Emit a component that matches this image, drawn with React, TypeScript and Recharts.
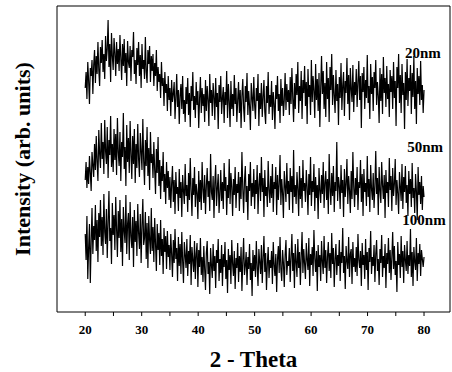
import React from "react";
import { LineChart, Line, XAxis, YAxis, ReferenceDot, ReferenceLine } from "recharts";

const thetaStart = 20;
const thetaStep = 0.15;

const s20nm = [
  224, 240, 213, 250, 231, 208, 244, 236, 252, 218, 247, 262, 229, 256, 238, 270, 242, 226, 265, 249,
  272, 240, 258, 233, 276, 251, 263, 292, 245, 268, 230, 279, 256, 242, 274, 259, 236, 270, 248, 263,
  241, 277, 254, 232, 268, 246, 273, 239, 259, 226, 271, 250, 244, 266, 231, 262, 255, 280, 238, 252,
  228, 264, 247, 270, 236, 257, 224, 268, 243, 252, 233, 275, 240, 229, 262, 248, 266, 230, 256, 241,
  258, 226, 249, 236, 262, 221, 245, 230, 238, 214, 250, 226, 234, 206, 240, 219, 228, 201, 236, 212,
  224, 196, 232, 210, 218, 230, 193, 214, 238, 205, 222, 188, 216, 228, 203, 236, 198, 212, 190, 225,
  208, 234, 197, 219, 185, 226, 211, 240, 202, 216, 194, 230, 207, 221, 184, 213, 235, 199, 224, 206,
  218, 190, 232, 201, 226, 212, 186, 238, 209, 222, 196, 229, 215, 192, 234, 205, 219, 183, 227, 210,
  236, 198, 214, 225, 189, 220, 207, 241, 194, 228, 211, 185, 231, 203, 218, 196, 237, 208, 224, 190,
  212, 230, 199, 222, 184, 216, 233, 204, 190, 226, 210, 239, 197, 221, 206, 182, 229, 214, 201, 235,
  207, 193, 224, 211, 238, 186, 219, 203, 229, 195, 215, 232, 200, 188, 226, 209, 240, 198, 217, 205,
  231, 192, 220, 208, 183, 227, 213, 236, 201, 218, 189, 233, 206, 224, 196, 212, 239, 202, 228, 210,
  222, 197, 235, 208, 244, 214, 190, 229, 203, 238, 217, 250, 199, 226, 211, 241, 193, 232, 219, 246,
  206, 230, 188, 243, 215, 227, 197, 252, 210, 236, 221, 194, 248, 212, 233, 201, 239, 185, 224, 256,
  218, 241, 203, 229, 195, 250, 213, 234, 190, 245, 222, 258, 207, 237, 216, 199, 242, 211, 228, 187,
  235, 214, 249, 202, 226, 240, 196, 231, 219, 254, 208, 237, 192, 244, 223, 210, 247, 200, 230, 217,
  243, 205, 229, 251, 212, 236, 184, 239, 220, 245, 203, 232, 214, 257, 209, 226, 193, 248, 218, 235,
  201, 240, 224, 252, 207, 230, 216, 189, 244, 211, 238, 198, 255, 219, 234, 205, 246, 213, 228, 195,
  242, 220, 236, 203, 250, 214, 231, 186, 245, 224, 258, 209, 237, 199, 248, 217, 229, 183, 240, 212,
  253, 206, 234, 221, 247, 198, 239, 215, 256, 203, 231, 188, 244, 218, 236, 207, 251, 212, 227, 199,
  222,
];

const s50nm = [
  132, 150, 124, 145, 128, 156, 139, 121, 160, 147, 135, 168, 142, 176, 150, 131, 182, 158, 144, 189,
  153, 170, 138, 192, 161, 148, 185, 134, 172, 157, 196, 145, 168, 140, 183, 152, 178, 137, 194, 160,
  146, 180, 131, 170, 155, 199, 143, 165, 126, 187, 150, 174, 139, 191, 158, 133, 176, 148, 183, 129,
  168, 144, 188, 153, 135, 179, 160, 142, 193, 151, 127, 172, 146, 185, 136, 164, 122, 180, 149, 158,
  134, 170, 142, 118, 163, 139, 175, 126, 152, 113, 146, 131, 160, 120, 138, 108, 150, 124, 141, 112,
  135, 104, 128, 146, 110, 132, 98, 140, 118, 125, 101, 143, 114, 130, 95, 137, 121, 108, 148, 116,
  127, 100, 139, 112, 154, 122, 96, 134, 117, 145, 105, 128, 119, 93, 141, 110, 132, 102, 150, 123,
  109, 137, 98, 126, 144, 115, 131, 101, 158, 120, 112, 136, 94, 129, 147, 106, 124, 138, 99, 118,
  142, 111, 130, 103, 149, 121, 135, 97, 127, 114, 153, 108, 139, 125, 96, 133, 117, 145, 104, 128,
  119, 140, 101, 135, 113, 160, 124, 99, 131, 146, 110, 126, 92, 138, 121, 150, 106, 129, 115, 143,
  103, 132, 118, 147, 98, 127, 139, 111, 155, 120, 134, 95, 142, 116, 125, 105, 151, 122, 109, 136,
  114, 148, 100, 130, 123, 145, 97, 137, 112, 128, 157, 107, 133, 119, 94, 141, 126, 110, 149, 118,
  131, 102, 144, 120, 136, 99, 162, 115, 127, 108, 140, 123, 96, 146, 113, 134, 104, 152, 121, 129,
  110, 142, 125, 97, 138, 117, 155, 106, 131, 120, 148, 101, 135, 114, 127, 93, 144, 122, 109, 137,
  118, 150, 104, 129, 141, 112, 133, 98, 158, 124, 107, 139, 116, 146, 100, 130, 121, 170, 111, 135,
  126, 103, 147, 119, 132, 95, 143, 115, 128, 153, 108, 136, 122, 99, 141, 113, 160, 125, 105, 134,
  117, 145, 102, 130, 124, 152, 110, 138, 96, 143, 120, 129, 106, 156, 115, 133, 100, 147, 123, 112,
  139, 104, 126, 161, 118, 134, 97, 145, 121, 109, 150, 127, 113, 137, 94, 142, 119, 130, 105, 154,
  122, 136, 101, 144, 116, 128, 153, 107, 132, 119, 98, 140, 125, 111, 148, 103, 135, 120, 146, 109,
  127, 96, 141, 118, 133, 105, 149, 114, 124, 99, 138, 121, 92, 145, 117, 130, 108, 136, 102, 126,
  115,
];

const s100nm = [
  78, 52, 96, 33, 64, 88, 29, 70, 104, 58, 86, 72, 107, 61, 92, 50, 99, 75, 112, 66,
  95, 57, 118, 80, 68, 103, 54, 90, 121, 71, 84, 48, 109, 77, 97, 62, 115, 83, 55, 101,
  74, 112, 60, 93, 46, 105, 81, 69, 117, 58, 88, 99, 52, 110, 76, 64, 95, 45, 102, 70,
  91, 56, 108, 79, 63, 98, 49, 86, 113, 67, 74, 100, 53, 89, 44, 96, 72, 58, 104, 61,
  85, 50, 94, 68, 41, 88, 62, 79, 47, 92, 56, 73, 38, 84, 60, 76, 43, 81, 55, 67,
  42, 78, 58, 35, 72, 49, 83, 53, 64, 31, 75, 46, 68, 38, 80, 51, 29, 70, 57, 44,
  73, 36, 61, 48, 77, 27, 65, 52, 40, 71, 33, 58, 69, 25, 62, 45, 74, 37, 55, 30,
  66, 43, 22, 59, 71, 38, 50, 18, 64, 47, 34, 68, 41, 56, 24, 62, 49, 73, 31, 53,
  39, 67, 26, 58, 45, 70, 33, 52, 19, 63, 42, 57, 28, 72, 48, 36, 61, 23, 54, 44,
  69, 30, 56, 40, 65, 21, 51, 74, 37, 46, 60, 27, 55, 43, 68, 32, 49, 16, 62, 41,
  57, 35, 71, 45, 26, 63, 50, 38, 67, 29, 54, 76, 40, 59, 22, 48, 65, 34, 52, 44,
  61, 28, 70, 47, 36, 58, 20, 53, 66, 39, 75, 43, 31, 62, 49, 25, 57, 72, 37, 51,
  46, 64, 30, 55, 78, 41, 59, 24, 68, 50, 35, 73, 44, 60, 27, 56, 80, 39, 63, 48,
  33, 69, 52, 42, 74, 26, 58, 47, 65, 36, 82, 54, 40, 61, 21, 67, 45, 57, 31, 71,
  50, 38, 76, 44, 62, 29, 55, 70, 41, 59, 34, 79, 48, 64, 25, 53, 68, 37, 57, 46,
  72, 31, 60, 49, 84, 39, 56, 23, 66, 51, 43, 75, 35, 58, 63, 28, 70, 45, 54, 40,
  65, 36, 78, 52, 44, 61, 26, 69, 47, 57, 33, 73, 42, 60, 22, 64, 50, 81, 38, 55,
  46, 67, 30, 58, 72, 41, 53, 27, 63, 49, 77, 35, 56, 44, 68, 24, 59, 48, 74, 39,
  62, 32, 55, 80, 43, 66, 37, 51, 20, 70, 47, 58, 34, 76, 45, 61, 29, 67, 52, 41,
  71, 38, 57, 46, 83, 35, 60, 26, 65, 50, 42, 74, 31, 59, 48, 68, 36, 62, 53, 45,
  55,
];

const xTicks = [20, 25, 30, 35, 40, 45, 50, 55, 60, 65, 70, 75, 80];
const seriesLabels = [
  { name: "20nm", x: 79.8, y: 259 },
  { name: "50nm", x: 80.2, y: 165 },
  { name: "100nm", x: 80.0, y: 92 },
];

const n = Math.min(s20nm.length, s50nm.length, s100nm.length);
const data = s20nm.slice(0, n).map((v, i) => ({
  theta: Math.round((thetaStart + i * thetaStep) * 100) / 100,
  a: v,
  b: s50nm[i],
  c: s100nm[i],
}));

const FONT = "'Liberation Serif', 'Times New Roman', serif";
const X_DOMAIN: [number, number] = [15, 84.6];
const Y_DOMAIN: [number, number] = [0, 306];

export default function App() {
  return (
    <div style={{ position: "absolute", left: 0, top: 0, background: "#fff" }}>
      <LineChart
        width={452}
        height={372}
        data={data}
        margin={{ top: 6, right: 1, bottom: 40, left: 0 }}
      >
        <XAxis
          dataKey="theta"
          type="number"
          domain={X_DOMAIN}
          ticks={xTicks}
          tickFormatter={(v: number) => (v % 10 === 0 ? String(v) : "")}
          tickSize={4}
          tickMargin={9}
          height={20}
          stroke="#000"
          tick={{ fill: "#000", fontFamily: FONT, fontWeight: "bold", fontSize: 13 }}
          label={{
            value: "2 - Theta",
            position: "insideBottom",
            offset: -35,
            style: { fill: "#000", fontFamily: FONT, fontWeight: "bold", fontSize: 23 },
          }}
        />
        <YAxis
          type="number"
          domain={Y_DOMAIN}
          tick={false}
          tickLine={false}
          width={57}
          stroke="#000"
          label={{
            value: "Intensity (arb. units)",
            angle: -90,
            position: "insideLeft",
            offset: 22,
            style: { fill: "#000", fontFamily: FONT, fontWeight: "bold", fontSize: 22, textAnchor: "middle" },
          }}
        />
        <YAxis
          yAxisId="right"
          orientation="right"
          type="number"
          domain={Y_DOMAIN}
          tick={false}
          tickLine={false}
          width={1}
          stroke="#000"
        />
        <ReferenceLine y={Y_DOMAIN[1]} stroke="#000" strokeWidth={1.2} />
        <Line dataKey="a" stroke="#000" strokeWidth={1.2} dot={false} isAnimationActive={false} />
        <Line dataKey="b" stroke="#000" strokeWidth={1.2} dot={false} isAnimationActive={false} />
        <Line dataKey="c" stroke="#000" strokeWidth={1.2} dot={false} isAnimationActive={false} />
        {seriesLabels.map((s) => (
          <ReferenceDot
            key={s.name}
            x={s.x}
            y={s.y}
            r={0}
            fill="none"
            stroke="none"
            label={{
              value: s.name,
              position: "center",
              style: { fill: "#000", fontFamily: FONT, fontWeight: "bold", fontSize: 15 },
            }}
          />
        ))}
      </LineChart>
    </div>
  );
}
